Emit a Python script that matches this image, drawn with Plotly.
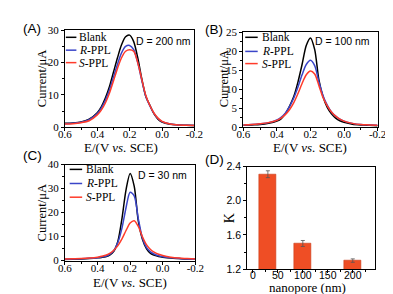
import plotly.graph_objects as go

W, H = 393, 294

# ---------------- data ----------------
E = [0.6, 0.55, 0.5, 0.45, 0.4, 0.375, 0.35, 0.325, 0.3, 0.275, 0.25, 0.225, 0.2,
     0.175, 0.15, 0.125, 0.1, 0.075, 0.05, 0.025, 0.0, -0.05, -0.1, -0.15, -0.2]

series_names = ["Blank", "<i>R</i>-PPL", "<i>S</i>-PPL"]
series_colors = ["#000000", "#3A45C8", "#FF3B2A"]

# Panel A, D = 200 nm
A_blank = [1.2, 1.3, 1.6, 2.5, 4.5, 6.3, 9.0, 12.5, 17.0, 21.5, 25.5, 28.0, 28.5,
           26.5, 21.5, 15.0, 9.5, 6.8, 4.2, 2.5, 1.6, 0.9, 0.7, 0.6, 0.5]
A_R = [1.1, 1.2, 1.5, 2.3, 4.2, 5.9, 8.3, 11.5, 15.5, 19.5, 23.0, 25.0, 25.3,
       24.0, 20.0, 14.5, 9.5, 6.6, 4.3, 2.7, 1.7, 1.0, 0.7, 0.6, 0.5]
A_S = [1.0, 1.1, 1.4, 2.0, 3.8, 5.3, 7.5, 10.5, 14.3, 18.2, 21.5, 23.5, 24.0,
       23.5, 20.0, 14.8, 9.8, 6.7, 4.4, 2.8, 1.8, 1.0, 0.7, 0.6, 0.5]

# Panel B, D = 100 nm
B_blank = [0.5, 0.6, 0.7, 1.0, 1.6, 2.2, 3.5, 5.5, 8.0, 11.8, 16.5, 21.5, 23.5,
           20.5, 12.5, 8.0, 5.2, 3.5, 2.4, 1.7, 1.3, 0.8, 0.6, 0.5, 0.4]
B_R = [0.6, 0.7, 0.9, 1.2, 1.9, 2.6, 3.7, 5.4, 7.6, 10.5, 13.8, 16.5, 17.6,
       16.2, 12.0, 8.3, 5.8, 4.0, 2.9, 2.1, 1.6, 1.0, 0.7, 0.6, 0.5]
B_S = [0.6, 0.7, 0.9, 1.2, 1.8, 2.4, 3.3, 4.6, 6.4, 8.8, 11.5, 13.8, 14.8,
       14.0, 11.0, 7.8, 5.6, 4.0, 2.9, 2.1, 1.6, 1.0, 0.7, 0.6, 0.5]

# Panel C, D = 30 nm
C_blank = [0.4, 0.5, 0.6, 0.8, 1.1, 1.3, 1.6, 2.3, 3.8, 8.0, 17.5, 29.5, 36.3,
           31.0, 16.5, 9.0, 5.0, 3.0, 2.2, 1.7, 1.4, 1.0, 0.8, 0.6, 0.5]
C_R = [0.5, 0.6, 0.7, 0.9, 1.2, 1.5, 1.8, 2.6, 4.2, 7.5, 13.5, 22.0, 28.5,
       27.0, 17.5, 9.5, 5.5, 3.6, 2.6, 2.0, 1.6, 1.1, 0.8, 0.6, 0.5]
C_S = [0.6, 0.7, 0.8, 1.0, 1.4, 1.8, 2.2, 3.0, 4.3, 6.2, 9.0, 12.5, 15.6,
       16.6, 14.2, 10.0, 6.6, 4.6, 3.4, 2.6, 2.1, 1.4, 1.0, 0.8, 0.6]

# Panel D
pore_size = [30, 100, 200]
K_values = [2.31, 1.50, 1.30]
K_errors = [0.04, 0.035, 0.02]

# ---------------- layout helpers ----------------
def px_x(p):
    return p / W

def px_y(p):
    return 1 - p / H

# panel boxes in pixels: (left, right, top, bottom)
boxes = {
    "A": (52, 187, 17, 118),
    "B": (238, 378, 19, 118),
    "C": (52, 188, 157, 257),
    "D": (242, 375, 159, 266),
}

SERIF = "Liberation Serif, Times New Roman, serif"
SANS = "Liberation Sans, Arial, sans-serif"

fig = go.Figure()

panels = [
    ("A", "x", "y", [A_blank, A_R, A_S]),
    ("B", "x2", "y2", [B_blank, B_R, B_S]),
    ("C", "x3", "y3", [C_blank, C_R, C_S]),
]
for key, xa, ya, ser in panels:
    for name, color, vals in zip(series_names, series_colors, ser):
        fig.add_trace(go.Scatter(x=E, y=vals, mode="lines", name=name,
                                 line=dict(color=color, width=1.5, shape="spline", smoothing=0.8),
                                 xaxis=xa, yaxis=ya, showlegend=False))

fig.add_trace(go.Bar(x=pore_size, y=K_values, width=35,
                     marker=dict(color="#EF4E25", line=dict(color="#C83A18", width=0.6)),
                     error_y=dict(type="data", array=K_errors, color="#555555",
                                  thickness=0.8, width=2),
                     xaxis="x4", yaxis="y4", showlegend=False))

def dom(key):
    l, r, t, b = boxes[key]
    return [px_x(l), px_x(r)], [px_y(b), px_y(t)]

common = dict(showline=True, linecolor="black", linewidth=1, mirror=True,
              ticks="outside", ticklen=3, tickwidth=1, tickcolor="black",
              showgrid=False, zeroline=False)

tickfont = dict(family=SERIF, size=11, color="black")

layout = dict(width=W, height=H, margin=dict(l=0, r=0, t=0, b=0),
              plot_bgcolor="white", paper_bgcolor="white", bargap=0)

yranges = {"A": ([0, 30], 10), "B": ([0, 25], 5), "C": ([0, 40], 10)}
for i, key in enumerate(["A", "B", "C"], start=1):
    xd, yd = dom(key)
    sfx = "" if i == 1 else str(i)
    layout["xaxis" + sfx] = dict(common, domain=xd, anchor="y" + sfx, range=[0.6, -0.2],
                                 tickvals=[0.6, 0.4, 0.2, 0.0, -0.2],
                                 ticktext=["0.6", "0.4", "0.2", "0.0", "-0.2"],
                                 tickfont=tickfont, ticklabelstandoff=-6,
                                 minor=dict(ticks="outside", ticklen=2, dtick=0.1, tickcolor="black"))
    yr, dt = yranges[key]
    layout["yaxis" + sfx] = dict(common, domain=yd, anchor="x" + sfx, range=yr, dtick=dt,
                                 tickfont=tickfont,
                                 minor=dict(ticks="outside", ticklen=2, dtick=dt / 2, tickcolor="black"))

xd, yd = dom("D")
layout["xaxis4"] = dict(common, domain=xd, anchor="y4", range=[-11.5, 244],
                        tickvals=[0, 50, 100, 150, 200],
                        tickfont=dict(family=SANS, size=10.5, color="black"), ticklabelstandoff=-7,
                        minor=dict(ticks="outside", ticklen=2, dtick=25, tickcolor="black"))
layout["yaxis4"] = dict(common, domain=yd, anchor="x4", range=[1.2, 2.4],
                        tickvals=[1.2, 1.6, 2.0, 2.4], ticktext=["1.2", "1.6", "2.0", "2.4"],
                        tickfont=dict(family=SANS, size=10.5, color="black"),
                        minor=dict(ticks="outside", ticklen=2, dtick=0.2, tickcolor="black"))

fig.update_layout(**layout)

def note(text, x, y, size, family, xanchor="center", angle=0):
    fig.add_annotation(text=text, xref="paper", yref="paper", x=px_x(x), y=px_y(y),
                       xanchor=xanchor, yanchor="middle", showarrow=False, textangle=angle,
                       borderpad=0, font=dict(family=family, size=size, color="black"))

# axis titles
x_title = "E/(V <i>vs.</i> SCE)"
y_title = "Current/\u03bcA"
note(x_title, 111, 139.5, 13, SERIF)
note(x_title, 308, 139.5, 13, SERIF)
note(x_title, 120, 279.5, 13, SERIF)
note(y_title, 28, 67, 12.5, SERIF, angle=-90)
note(y_title, 218, 68, 12.5, SERIF, angle=-90)
note(y_title, 28, 207, 12.5, SERIF, angle=-90)
note("nanopore (nm)", 305, 285, 13, SERIF)
note("K", 223, 213, 14, SERIF, angle=-90)

# manual compact legends (line swatch + label) for panels A-C
legend_pos = {
    "A": (53, 64, 66, [24.3, 37.7, 50.7]),
    "B": (240, 253, 256, [24.3, 39.0, 51.7]),
    "C": (57, 70, 73, [162, 176.7, 191]),
}
for key, (sx0, sx1, tx, rows) in legend_pos.items():
    for name, color, ry in zip(series_names, series_colors, rows):
        fig.add_shape(type="line", xref="paper", yref="paper",
                      x0=px_x(sx0), x1=px_x(sx1), y0=px_y(ry), y1=px_y(ry),
                      line=dict(color=color, width=1.5))
        note(name, tx, ry, 11.5, SERIF, xanchor="left")

# pore-size notes
for txt, x, y in [("D = 200 nm", 184, 28), ("D = 100 nm", 371, 28), ("D = 30 nm", 180, 168)]:
    note(txt, x, y, 10.5, SANS, xanchor="right")

# panel labels
for txt, x, y in [("(A)", 7, 15), ("(B)", 197, 16), ("(C)", 7, 148), ("(D)", 197, 152)]:
    note(txt, x, y, 13.5, SANS, xanchor="left")

fig.write_html("out.html")
